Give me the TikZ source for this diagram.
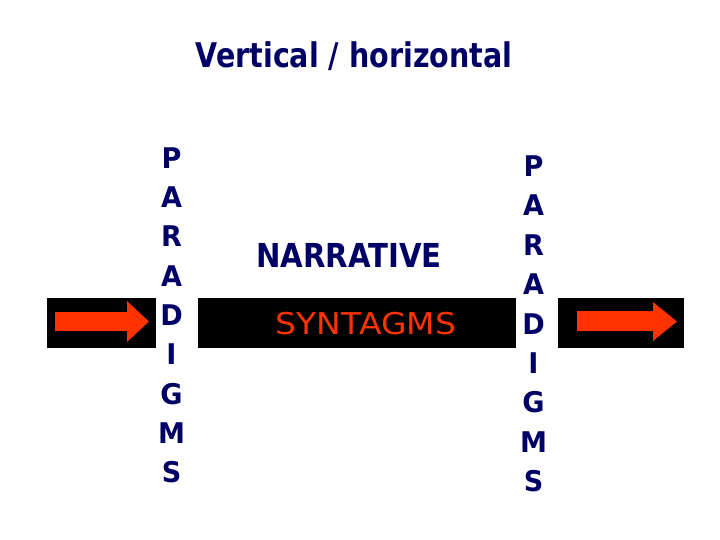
\documentclass[tikz,border=0pt]{standalone}
\usepackage{fontspec}
\setmainfont{DejaVu Sans}
\usepackage{graphicx}
\definecolor{navy}{RGB}{0,0,102}
\definecolor{arrowred}{RGB}{255,51,0}
\tikzset{
  bar/.style={fill=black, draw=none},
  redarrow/.style={fill=arrowred, draw=none},
  letter/.style={anchor=base, inner sep=0pt, text=navy, font=\fontsize{28.5}{30}\selectfont\bfseries},
  titletext/.style={anchor=base, inner sep=0pt, text=navy, font=\fontsize{34}{40}\selectfont\bfseries},
  narr/.style={anchor=base, inner sep=0pt, text=navy, font=\fontsize{33}{38}\selectfont\bfseries},
  synt/.style={anchor=base, inner sep=0pt, text=arrowred, font=\fontsize{30}{36}\selectfont}
}
\begin{document}
\begin{tikzpicture}[x=1pt,y=-1pt]
\useasboundingbox (0,0) rectangle (720,540);
\fill[white] (0,0) rectangle (720,540);
% black bar segments
\fill[bar] (47,298) rectangle (156,348);
\fill[bar] (198,298) rectangle (516,348);
\fill[bar] (558,298) rectangle (684,348);
% arrows
\fill[redarrow] (55,312) -- (127,312) -- (127,301) -- (149,321.5) -- (127,342) -- (127,331) -- (55,331) -- cycle;
\fill[redarrow] (577,311) -- (653,311) -- (653,302) -- (677,321.5) -- (653,341) -- (653,331) -- (577,331) -- cycle;
% title
\node[titletext] (title) at (354,68) {\scalebox{0.84}[1]{Vertical / horizontal}};
% center texts
\node[narr] (narrative) at (349,267) {\scalebox{0.885}[1]{NARRATIVE}};
\node[synt] (syntagms) at (366,334) {\scalebox{1.1}[1]{SYNTAGMS}};
% paradigm columns
\foreach \l [count=\i from 0] in {P,A,R,A,D,I,G,M,S} {
  \node[letter] (L\i) at (171.5,168.5+\i*39.25) {\scalebox{0.95}[1]{\l}};
  \node[letter] (R\i) at (533.5,176.5+\i*39.4) {\scalebox{0.95}[1]{\l}};
}
\end{tikzpicture}
\end{document}
